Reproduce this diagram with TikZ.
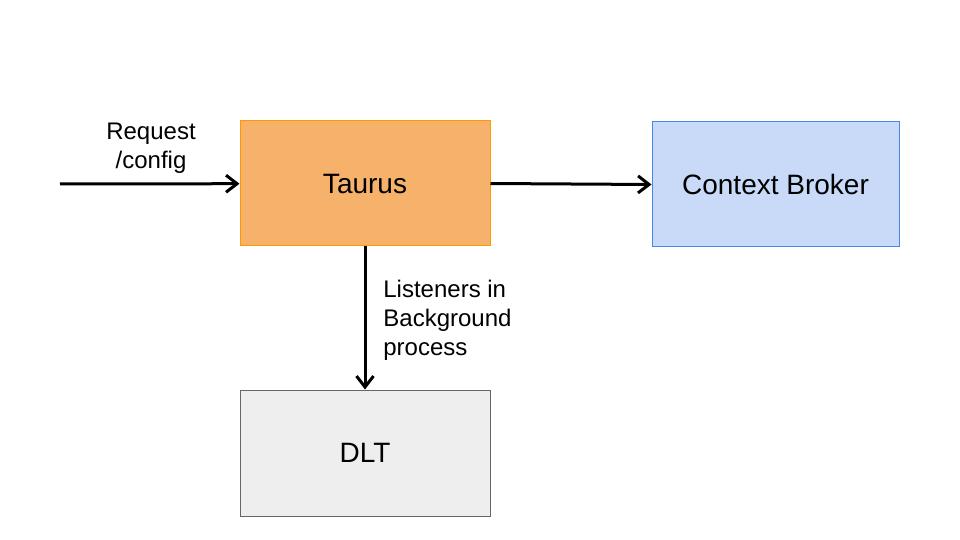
\documentclass[tikz,border=0pt]{standalone}
\usepackage{fontspec}
\setmainfont{Liberation Sans}
\usetikzlibrary{arrows.meta}

\definecolor{taurusfill}{HTML}{F6B26B}
\definecolor{taurusline}{HTML}{FF9900}
\definecolor{brokerfill}{HTML}{C9DAF8}
\definecolor{brokerline}{HTML}{4A86E8}
\definecolor{dltfill}{HTML}{EEEEEE}
\definecolor{dltline}{HTML}{666666}

\tikzset{
	box/.style={rectangle, draw, line width=0.5pt, inner sep=0pt, text depth=0pt, font=\fontsize{14}{17}\selectfont},
	flow/.style={draw, line width=1.5pt, -{Straight Barb[length=5.5pt,width=8.5pt,line width=1.5pt]}},
	note/.style={inner sep=0pt, font=\fontsize{12}{14.5}\selectfont}
}

\begin{document}
\begin{tikzpicture}
	\pgfsetxvec{\pgfpoint{0.5pt}{0.0pt}}
	\pgfsetyvec{\pgfpoint{0.0pt}{-0.5pt}}

	\useasboundingbox (0,0) rectangle (960,540);

	\node[box, fill=taurusfill, draw=taurusline, minimum width=125pt, minimum height=62.5pt] at (365,183.5) (taurus) {Taurus};
	\node[box, fill=brokerfill, draw=brokerline, minimum width=123.5pt, minimum height=62.5pt] at (775.5,184.5) (broker) {Context Broker};
	\node[box, fill=dltfill, draw=dltline, minimum width=125pt, minimum height=63pt] at (365,453) (dlt) {DLT};
	\coordinate (src) at (60,184);

	\node[note, align=center] at (151,148) (request) {Request\\/config};
	\node[note, align=left, anchor=west] at (383,320) (listeners) {Listeners in\\Background\\process};

	\path (src) edge[flow] (taurus)
	(taurus.east) edge[flow] (broker.west)
	(taurus) edge[flow] (dlt);

\end{tikzpicture}
\end{document}
